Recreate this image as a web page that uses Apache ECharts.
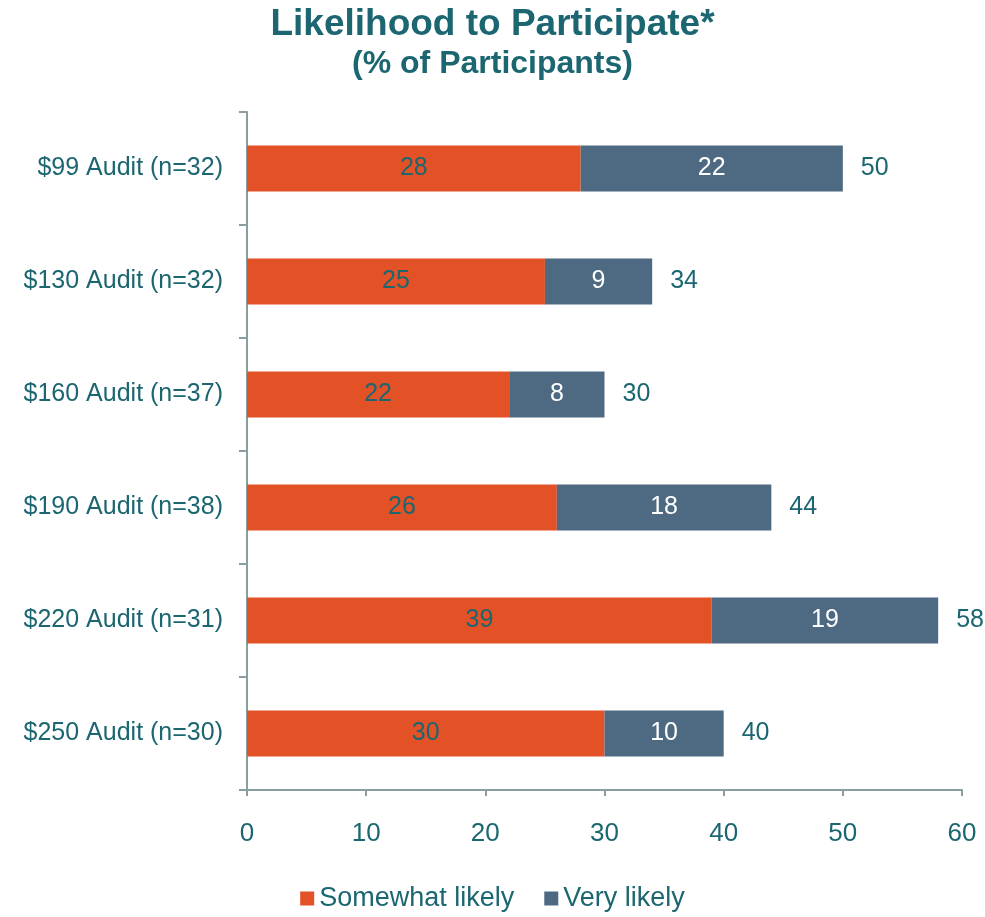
<!DOCTYPE html>
<html>
<head>
<meta charset="utf-8">
<script src="https://cdn.jsdelivr.net/npm/echarts@6/dist/echarts.min.js"></script>
<style>
  html, body { margin: 0; padding: 0; background: #fff; }
  #chart { width: 985px; height: 917px; }
</style>
</head>
<body>
<div id="chart"></div>
<script>
// Price points surveyed, top to bottom
const categories = [
  '$99 Audit (n=32)',
  '$130 Audit (n=32)',
  '$160 Audit (n=37)',
  '$190 Audit (n=38)',
  '$220 Audit (n=31)',
  '$250 Audit (n=30)'
];
// Share of participants (%)
const somewhatLikely = [28, 25, 22, 26, 39, 30];
const veryLikely = [22, 9, 8, 18, 19, 10];
const totals = [50, 34, 30, 44, 58, 40];
const xTicks = [0, 10, 20, 30, 40, 50, 60];

const TEAL = '#1b6670';
const FONT = 'Liberation Sans, Arial, sans-serif';

const chart = echarts.init(document.getElementById('chart'));
chart.setOption({
  animation: false,
  backgroundColor: '#ffffff',
  textStyle: { fontFamily: FONT },
  title: [
    {
      text: 'Likelihood to Participate*',
      left: 'center', top: 1,
      textStyle: { color: TEAL, fontSize: 37, fontWeight: 'bold', fontFamily: FONT }
    },
    {
      text: '(% of Participants)',
      left: 'center', top: 43,
      textStyle: { color: TEAL, fontSize: 32, fontWeight: 'bold', fontFamily: FONT }
    }
  ],
  legend: {
    bottom: 0,
    left: 'center',
    itemWidth: 14,
    itemHeight: 14,
    itemGap: 30,
    icon: 'rect',
    data: ['Somewhat likely', 'Very likely'],
    textStyle: { color: TEAL, fontSize: 27, fontFamily: FONT }
  },
  grid: { left: 247, right: 23, top: 112, bottom: 127, containLabel: false },
  xAxis: {
    type: 'value',
    min: xTicks[0],
    max: xTicks[xTicks.length - 1],
    interval: 10,
    splitLine: { show: false },
    axisLine: { show: true, lineStyle: { color: '#8a9ea2', width: 2 } },
    axisTick: { show: true, length: 6, lineStyle: { color: '#8a9ea2', width: 2 } },
    axisLabel: { color: TEAL, fontSize: 26, margin: 31, fontFamily: FONT }
  },
  yAxis: {
    type: 'category',
    inverse: true,
    data: categories,
    axisLine: { show: true, lineStyle: { color: '#8a9ea2', width: 2 } },
    axisTick: { show: true, length: 8, lineStyle: { color: '#8a9ea2', width: 2 } },
    axisLabel: { color: TEAL, fontSize: 25, margin: 24, fontFamily: FONT }
  },
  series: [
    {
      name: 'Somewhat likely',
      type: 'bar',
      stack: 'total',
      barWidth: 46,
      itemStyle: { color: '#e35126' },
      label: { show: true, position: 'inside', color: TEAL, fontSize: 25, fontFamily: FONT },
      data: somewhatLikely
    },
    {
      name: 'Very likely',
      type: 'bar',
      stack: 'total',
      barWidth: 46,
      itemStyle: { color: '#4d6a82' },
      label: { show: true, position: 'inside', color: '#ffffff', fontSize: 25, fontFamily: FONT },
      data: veryLikely
    },
    {
      // zero-width cap carrying the total at the end of each stack
      name: 'Total',
      type: 'bar',
      stack: 'total',
      barWidth: 46,
      itemStyle: { color: 'transparent' },
      label: {
        show: true, position: 'right', distance: 18,
        color: TEAL, fontSize: 25, fontFamily: FONT,
        formatter: p => String(totals[p.dataIndex])
      },
      data: totals.map(() => 0)
    }
  ]
});
</script>
</body>
</html>
